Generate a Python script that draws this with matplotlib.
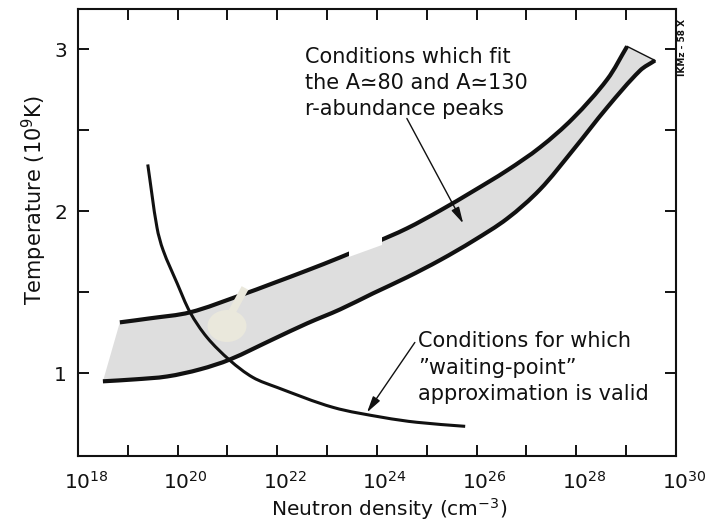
import numpy as np
import matplotlib.pyplot as plt
from matplotlib.patches import Ellipse, Polygon, PathPatch
from matplotlib.path import Path
from matplotlib.transforms import ScaledTranslation

plt.rcParams["font.family"] = ["DejaVu Sans"]
plt.rcParams["mathtext.fontset"] = "dejavusans"

# r-process band: log10 neutron density (cm^-3) vs temperature (10^9 K)
upper_logn = [18.84, 19.45, 20.25, 21.25, 21.91, 22.60, 23.26, 23.92,
              24.60, 25.27, 25.93, 26.61, 27.27, 27.93, 28.62, 29.02]
upper_T = [1.315, 1.340, 1.377, 1.481, 1.556, 1.636, 1.716, 1.802,
           1.895, 2.006, 2.125, 2.253, 2.395, 2.574, 2.815, 3.019]
lower_logn = [18.50, 19.14, 19.79, 20.45, 21.05, 21.91, 22.60, 23.26,
              23.92, 24.60, 25.27, 25.93, 26.61, 27.27, 27.93, 28.62,
              29.28, 29.58]
lower_T = [0.951, 0.963, 0.981, 1.025, 1.086, 1.210, 1.309, 1.395,
           1.494, 1.593, 1.700, 1.818, 1.955, 2.135, 2.377, 2.642,
           2.870, 2.932]

# waiting-point validity curve
wait_logn = [19.40, 19.585, 19.71, 19.99, 20.25, 20.59, 21.05, 21.51,
             21.99, 23.12, 24.12, 24.80, 25.77]
wait_T = [2.290, 1.901, 1.759, 1.556, 1.377, 1.222, 1.080, 0.975,
          0.914, 0.790, 0.728, 0.698, 0.673]

xtick_exp = list(range(18, 31))
ytick_vals = [1, 1.5, 2, 2.5, 3]

note_band = "Conditions which fit\nthe A\u224380 and A\u2243130\nr-abundance peaks"
note_wait = "Conditions for which\n\u201dwaiting-point\u201d\napproximation is valid"

ink = "#111111"
# pixels per decade / per 10^9 K, used only to weight the spline knots
PX_DEC, PX_T = 49.8, 162.0


def smooth_verts(logn, temp):
    """Chord-length Catmull-Rom curve through the points as cubic Bezier
    segments (built in log10 n, then mapped back to n for the log axis)."""
    p = np.column_stack([logn, temp]).astype(float)
    q = p * [PX_DEC, PX_T]
    t = np.r_[0, np.cumsum(np.hypot(*np.diff(q, axis=0).T))]
    n = len(p)
    m = np.empty_like(p)
    m[0] = (p[1] - p[0]) / (t[1] - t[0])
    m[-1] = (p[-1] - p[-2]) / (t[-1] - t[-2])
    for i in range(1, n - 1):
        m[i] = (p[i + 1] - p[i - 1]) / (t[i + 1] - t[i - 1])
    verts = [p[0]]
    codes = [Path.MOVETO]
    for i in range(n - 1):
        dt = t[i + 1] - t[i]
        verts += [p[i] + m[i] * dt / 3.0, p[i + 1] - m[i + 1] * dt / 3.0,
                  p[i + 1]]
        codes += [Path.CURVE4] * 3
    verts = np.array(verts)
    verts[:, 0] = 10.0 ** verts[:, 0]
    return verts, codes


def curve(ax, logn, temp, lw):
    v, c = smooth_verts(logn, temp)
    ax.add_patch(PathPatch(Path(v, c), fill=False, edgecolor=ink, lw=lw,
                           capstyle="butt", zorder=3))


fig = plt.figure(figsize=(7.09, 5.21), dpi=100)
ax = fig.add_axes([0.110, 0.1248, 0.8434, 0.858])
ax.set_xscale("log")

# shaded band between the two boundaries
uv, uc = smooth_verts(upper_logn, upper_T)
lv, lc = smooth_verts(lower_logn[::-1], lower_T[::-1])
band = Path(np.vstack([uv, lv, uv[:1]]),
            uc + [Path.LINETO] + lc[1:] + [Path.CLOSEPOLY])
ax.add_patch(PathPatch(band, facecolor="#dedede", edgecolor="none", zorder=1))

curve(ax, upper_logn, upper_T, 3.0)
curve(ax, lower_logn, lower_T, 3.0)
ax.plot([10 ** upper_logn[-1], 10 ** lower_logn[-1]],
        [upper_T[-1], lower_T[-1]], color=ink, lw=1.0, zorder=3)
curve(ax, wait_logn, wait_T, 2.2)

# arrows from the notes to the curves
arrow = dict(arrowstyle="-|>,head_length=0.7,head_width=0.18", color=ink,
             lw=1.0, shrinkA=0, shrinkB=0, mutation_scale=14)
ax.annotate("", xy=(10 ** 25.73, 1.926), xytext=(10 ** 24.60, 2.574),
            arrowprops=arrow, zorder=4)
ax.annotate("", xy=(10 ** 23.80, 0.759), xytext=(10 ** 24.76, 1.191),
            arrowprops=arrow, zorder=4)

ax.text(10 ** 22.56, 3.015, note_band, fontsize=15, ha="left",
        va="top", linespacing=1.38, color=ink)
ax.text(10 ** 24.82, 1.262, note_wait, fontsize=15, ha="left",
        va="top", linespacing=1.42, color=ink)

# blemishes on the plate
ax.add_patch(Polygon([(0.4532, 0.4832), (0.4532, 0.4452), (0.5084, 0.4720),
                      (0.5084, 0.5011)], closed=True, transform=ax.transAxes,
                     facecolor="white", edgecolor="none", zorder=5))
ax.add_patch(Ellipse((0.2492, 0.2908), 0.0652, 0.0716, transform=ax.transAxes,
                     facecolor="#eae8dc", edgecolor="none", zorder=5))
ax.plot([0.2575, 0.2793], [0.3221, 0.3758], transform=ax.transAxes,
        color="#eae8dc", lw=5.5, solid_capstyle="butt", zorder=5)

ax.set_xlim(1e18, 1e30)
ax.set_ylim(0.49, 3.25)

ax.set_xticks(10.0 ** np.array(xtick_exp))
ax.set_xticklabels(["$10^{%d}$" % e if e % 2 == 0 else "" for e in xtick_exp])
ax.xaxis.set_minor_locator(plt.NullLocator())
ax.set_yticks(ytick_vals)
ax.set_yticklabels(["%g" % v if v == int(v) else "" for v in ytick_vals])

ax.tick_params(direction="in", length=8, width=1.4, top=True, right=True,
               labelsize=14.5, colors=ink)
ax.tick_params(axis="x", pad=11)
ax.tick_params(axis="y", pad=8)
shift = ScaledTranslation(0.08, 0, fig.dpi_scale_trans)
for lab in ax.get_xticklabels():
    lab.set_transform(lab.get_transform() + shift)

for sp in ax.spines.values():
    sp.set_linewidth(1.5)
    sp.set_color(ink)

ax.set_xlabel("Neutron density (cm$^{-3}$)", fontsize=14.5, color=ink)
ax.xaxis.set_label_coords(0.52, -0.090)
ax.xaxis.label.set_verticalalignment("top")
ax.set_ylabel("Temperature (10$^9$K)", fontsize=15, color=ink)
ax.yaxis.set_label_coords(-0.048, 0.573)

fig.text(0.963, 0.908, "IKMz - 58 X", rotation=90, fontsize=6.5,
         fontweight="bold", ha="center", va="center", color=ink)

fig.savefig("out.png", dpi=100)
